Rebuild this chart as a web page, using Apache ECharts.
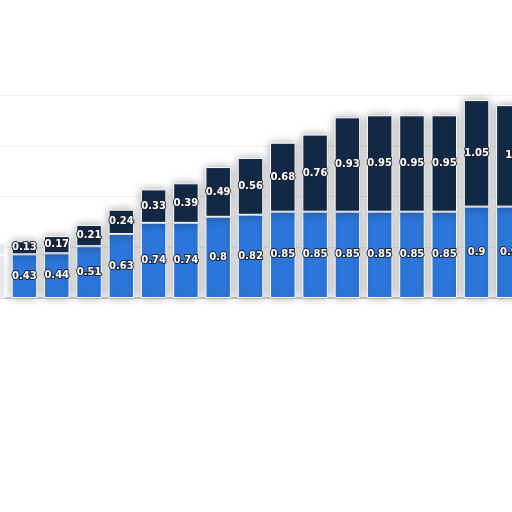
<!DOCTYPE html>
<html>
<head>
<meta charset="utf-8">
<script src="https://cdn.jsdelivr.net/npm/echarts@6/dist/echarts.min.js"></script>
<style>
  html, body { margin: 0; padding: 0; background: #fff; overflow: hidden; }
  /* the picture is a crop: the chart runs past both side edges */
  #chart { position: absolute; left: -24px; top: 0; width: 549px; height: 512px; }
</style>
</head>
<body>
<div id="chart"></div>
<script>
// data
var categories = ["1", "2", "3", "4", "5", "6", "7", "8", "9", "10", "11", "12", "13", "14", "15", "16", "17"];
var lowerValues = [0.42, 0.43, 0.44, 0.51, 0.63, 0.74, 0.74, 0.8, 0.82, 0.85, 0.85, 0.85, 0.85, 0.85, 0.85, 0.9, 0.9];
var upperValues = [0.12, 0.13, 0.17, 0.21, 0.24, 0.33, 0.39, 0.49, 0.56, 0.68, 0.76, 0.93, 0.95, 0.95, 0.95, 1.05, 1];
var yTicks = [0, 0.5, 1, 1.5, 2];

var myChart = echarts.init(document.getElementById("chart"));

var labelStyle = {
  show: true,
  position: "inside",
  color: "#fff",
  fontSize: 10,
  fontWeight: "bold",
  fontFamily: "DejaVu Sans",
  textBorderColor: "#1b2230",
  textBorderWidth: 2
};

// first bar sits at the faded left edge of the crop
function toData(values) {
  return values.map(function (v, i) {
    if (i === 0) {
      return { value: v, itemStyle: { color: "#e6e8ec", shadowBlur: 0 }, label: { show: false } };
    }
    return v;
  });
}

var option = {
  animation: false,
  grid: {
    left: 0,
    right: 0,
    top: 95,
    bottom: 214,
    containLabel: false
  },
  xAxis: {
    type: "category",
    data: categories,
    axisLine: { show: true, lineStyle: { color: "#cfcfcf", width: 2 } },
    axisTick: { show: false },
    axisLabel: { show: false }
  },
  yAxis: {
    type: "value",
    min: yTicks[0],
    max: yTicks[yTicks.length - 1],
    interval: 0.5,
    axisLine: { show: false },
    axisTick: { show: false },
    axisLabel: { show: false },
    splitLine: { show: true, lineStyle: { type: "dotted", color: "#e2e2e2" } }
  },
  series: [
    {
      type: "bar",
      stack: "total",
      data: toData(lowerValues),
      barWidth: "79%",
      label: labelStyle,
      itemStyle: {
        color: "#2d77dc",
        borderColor: "#fff",
        borderWidth: 1,
        shadowBlur: 10,
        shadowColor: "rgba(0,0,0,0.35)"
      }
    },
    {
      type: "bar",
      stack: "total",
      data: toData(upperValues),
      barWidth: "79%",
      label: labelStyle,
      itemStyle: {
        color: "#132a47",
        borderColor: "#fff",
        borderWidth: 1,
        shadowBlur: 10,
        shadowColor: "rgba(0,0,0,0.35)"
      }
    }
  ]
};

myChart.setOption(option);
</script>
</body>
</html>
